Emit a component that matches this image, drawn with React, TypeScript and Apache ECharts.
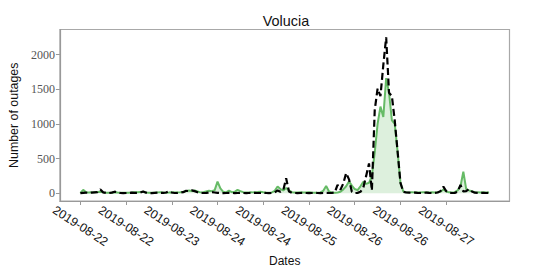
import React, { useEffect, useRef } from "react";
import * as echarts from "echarts";

// hourly values starting 2019-08-22 00:00
const actual: number[] = [
  5, 48, 15, 10, 12, 15, 18, 20, 12, 8, 5, 8, 15, 10, 6, 5,
  5, 8, 12, 15, 15, 18, 20, 10, 5, 5, 8, 12, 15, 10, 8, 10,
  15, 10, 12, 15, 20, 30, 38, 32, 38, 25, 12, 15, 25, 35, 30, 45,
  168, 70, 20, 12, 38, 15, 20, 48, 30, 15, 10, 10, 12, 15, 18, 22,
  15, 10, 8, 12, 35, 96, 60, 40, 75, 40, 15, 10, 10, 12, 10, 10,
  15, 10, 8, 8, 12, 35, 105, 25, 10, 8, 10, 20, 55, 100, 170, 110,
  60, 45, 100, 165, 135, 150, 250, 590, 1000, 1250, 1100, 1660, 1450, 1050, 1000, 600,
  150, 25, 15, 12, 15, 12, 10, 12, 15, 12, 10, 12, 10, 12, 20, 55,
  25, 12, 10, 15, 40, 100, 310, 60, 40, 30, 15, 12, 10, 12, 10, 10,
];

const predicted: number[] = [
  0, 5, 8, 5, 8, 12, 15, 55, 12, 3, 2, 8, 22, 12, 3, 2,
  3, 5, 8, 5, 5, 10, 25, 8, 2, 2, 5, 8, 6, 5, 10, 28,
  10, 3, 5, 10, 15, 35, 30, 40, 30, 15, 5, 3, 5, 10, 15, 10,
  5, 3, 2, 3, 5, 3, 2, 3, 5, 3, 2, 3, 5, 5, 3, 5,
  8, 3, 2, 3, 10, 40, 20, 45, 215, 25, 5, 3, 2, 3, 5, 3,
  2, 3, 5, 3, 2, 3, 5, 3, 5, 10, 120, 50, 140, 290, 200, 20,
  2, 5, 20, 80, 250, 430, 40, 1200, 1510, 1400, 1850, 2250, 1450, 1400, 1050, 600,
  150, 20, 10, 8, 5, 8, 5, 3, 5, 8, 5, 3, 5, 10, 30, 95,
  30, 5, 3, 5, 20, 120, 25, 30, 60, 25, 8, 5, 3, 5, 3, 5,
];

const tickHours: number[] = [0, 16, 32, 48, 64, 80, 96, 112, 128];
const tickLabels: string[] = [
  "2019-08-22", "2019-08-22", "2019-08-23", "2019-08-24", "2019-08-24",
  "2019-08-25", "2019-08-26", "2019-08-26", "2019-08-27",
];
const yTicks: number[] = [0, 500, 1000, 1500, 2000];

export default function App() {
  const ref = useRef<HTMLDivElement>(null);
  useEffect(() => {
    if (!ref.current) return;
    const chart = echarts.init(ref.current, undefined, { renderer: "svg" });
    const n = actual.length;
    const span = n - 1;
    const maxV = Math.max(...predicted, ...actual);
    const sans = "Liberation Sans, Arial, sans-serif";
    chart.setOption({
      animation: false,
      backgroundColor: "#ffffff",
      title: {
        text: "Volucia",
        left: 281,
        top: 9,
        textAlign: "center",
        textStyle: { fontSize: 14.4, fontWeight: "normal", color: "#111", fontFamily: sans },
      },
      grid: {
        left: 53.5,
        right: 42.5,
        top: 29.5,
        bottom: 76,
        show: true,
        borderColor: "#a8a8a8",
        borderWidth: 1.2,
        backgroundColor: "#fff",
      },
      xAxis: {
        type: "value",
        min: -0.05 * span,
        max: span * 1.05,
        name: "Dates",
        nameLocation: "middle",
        nameGap: 49,
        nameTextStyle: { fontSize: 12, color: "#111", fontFamily: sans },
        axisLine: { show: true, onZero: false, lineStyle: { color: "#999", width: 1.2 } },
        axisTick: { show: true, length: 4, customValues: tickHours, lineStyle: { color: "#999" } },
        axisLabel: {
          customValues: tickHours,
          formatter: (v: number) => {
            const i = tickHours.indexOf(Math.round(v));
            return i >= 0 ? tickLabels[i] : "";
          },
          rotate: -33,
          align: "center",
          verticalAlign: "middle",
          margin: 25,
          fontSize: 12.3,
          color: "#111",
          fontFamily: sans,
        },
        splitLine: { show: false },
      },
      yAxis: {
        type: "value",
        min: -0.05 * maxV,
        max: maxV * 1.05,
        name: "Number of outages",
        nameLocation: "middle",
        nameGap: 27,
        nameTextStyle: { fontSize: 12.4, color: "#111", fontFamily: sans },
        axisLine: { show: true, onZero: false, lineStyle: { color: "#999", width: 1.2 } },
        axisTick: { show: true, length: 4, customValues: yTicks, lineStyle: { color: "#999" } },
        axisLabel: {
          customValues: yTicks,
          formatter: (v: number) => String(Math.round(v)),
          margin: 5,
          fontSize: 12,
          color: "#555",
          fontFamily: "Liberation Serif, DejaVu Serif, serif",
        },
        splitLine: { show: false },
      },
      series: [
        {
          type: "line",
          data: actual.map((v, i) => [i, v]),
          showSymbol: false,
          symbol: "none",
          lineStyle: { color: "#66bb66", width: 2 },
          areaStyle: { color: "rgba(102,187,102,0.32)", origin: 0 },
          z: 2,
        },
        {
          type: "line",
          data: predicted.map((v, i) => [i, v]),
          showSymbol: false,
          symbol: "none",
          lineStyle: { color: "#000", width: 2.2, type: [7, 3.5] },
          z: 3,
        },
      ],
    });
    return () => chart.dispose();
  }, []);
  return (
    <div
      ref={ref}
      style={{ position: "fixed", left: 0, top: 0, width: 552, height: 277 }}
    />
  );
}
